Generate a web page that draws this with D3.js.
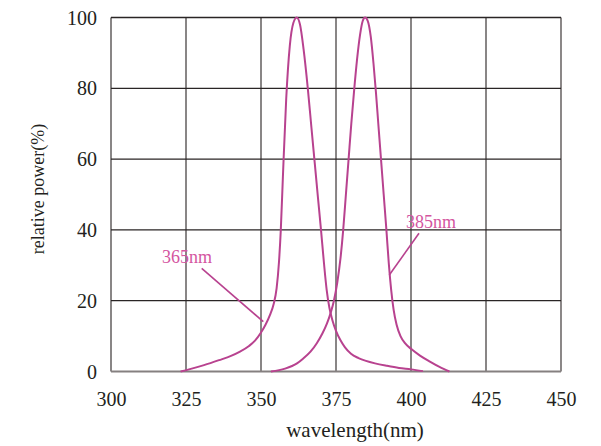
<!DOCTYPE html>
<html><head><meta charset="utf-8">
<script src="https://cdn.jsdelivr.net/npm/d3@7"></script>
<style>body{margin:0;background:#fff}svg{display:block}svg text{font-family:"Liberation Serif","Times New Roman",serif !important}</style>
</head><body><svg id="c" width="601" height="446"></svg>
<script>
const xTicks = [300, 325, 350, 375, 400, 425, 450];
const yTicks = [0, 20, 40, 60, 80, 100];
const wl365 = [323.2, 326, 331, 336, 340, 343, 346, 348, 350, 351.5, 353, 354.2, 355.2, 356, 356.6, 357.3, 358.4, 359.6, 360.8, 361.9, 363, 364.2, 365.6, 366.8, 367.9, 369, 370, 371, 371.9, 372.8, 373.8, 375, 376.5, 378, 380, 382.5, 385, 388, 392, 396, 400, 404];
const p365 = [0, 0.6, 1.8, 3.2, 4.4, 5.6, 7.2, 8.7, 11.0, 13.2, 16, 19, 23.5, 31, 40, 55, 77, 92, 98.5, 100, 98, 91, 80, 69, 59, 49, 40, 30.5, 23, 18, 14.5, 11.5, 8.8, 6.8, 5, 3.8, 3, 2.3, 1.6, 1, 0.6, 0.1];
const wl385 = [353.3, 358, 362, 364.1, 366.5, 368.6, 370.5, 372, 373.2, 374.3, 375.4, 376.5, 377.4, 378.3, 379.2, 380.1, 381, 382, 383, 383.9, 384.7, 385.6, 386.6, 387.5, 388.3, 389.1, 390, 390.9, 391.8, 392.6, 393.4, 394.2, 395.2, 396.5, 398, 400, 403, 406.3, 409.5, 412.8];
const p385 = [0, 0.8, 2.3, 3.7, 5.6, 8, 10.8, 13.6, 16.5, 20, 25, 32, 40, 50, 60, 70, 79, 88, 95, 99, 100, 99, 94.5, 87, 79, 70, 60, 50, 40, 30.5, 23, 17.5, 13.2, 10, 8, 6.4, 4.5, 2.8, 1.3, 0];
const labels = [
  {text: "365nm", x: 162, y: 263, lx1: 201.7, ly1: 268.3, lx2: 263.3, ly2: 321.7},
  {text: "385nm", x: 406, y: 228, lx1: 419, ly1: 233.3, lx2: 389.3, ly2: 275}
];

const svg = d3.select("#c");
const L = 111, R = 561, T = 17.5, B = 371.5;
const x = d3.scaleLinear().domain([300, 450]).range([L, R]);
const y = d3.scaleLinear().domain([0, 100]).range([B, T]);
const serif = '"Liberation Serif","Times New Roman",serif';

// grid
const g = svg.append("g");
g.selectAll(".vg").data(xTicks).join("line")
  .attr("x1", d => x(d)).attr("x2", d => x(d)).attr("y1", T).attr("y2", B)
  .attr("stroke", (d,i) => i === xTicks.length-1 ? "#6f6a6a" : "#4a4545").attr("stroke-width", (d,i)=> i===xTicks.length-1?1.6:1.3);
g.selectAll(".hg").data(yTicks).join("line")
  .attr("x1", L).attr("x2", R).attr("y1", d => y(d)).attr("y2", d => y(d))
  .attr("stroke", d => d === 0 ? "#858080" : "#2a2525").attr("stroke-width", d => d === 0 ? 2 : 1.3);

// axes (labels only)
const xa = svg.append("g").attr("transform", `translate(0,${B})`)
  .call(d3.axisBottom(x).tickValues(xTicks).tickSize(0).tickPadding(0));
xa.attr("font-family", serif);
xa.select(".domain").remove();
xa.selectAll("text").attr("y", 34.5).attr("dy", null).attr("font-size", 20)
  .style("font-family", serif).attr("fill", "#231f20");
const ya = svg.append("g").attr("transform", `translate(${L},0)`)
  .call(d3.axisLeft(y).tickValues(yTicks).tickSize(0).tickPadding(0));
ya.attr("font-family", serif);
ya.select(".domain").remove();
ya.selectAll("text").attr("x", -14).attr("dy", "0.33em").attr("font-size", 20)
  .style("font-family", serif).attr("fill", "#231f20");

// curves
const line = d3.line().x(d => x(d[0])).y(d => y(d[1])).curve(d3.curveMonotoneX);
const curves = [d3.zip(wl365, p365), d3.zip(wl385, p385)];
svg.selectAll(".curve").data(curves).join("path")
  .attr("d", line).attr("fill", "none").attr("stroke", "#b8428f").attr("stroke-width", 2);

// annotations
labels.forEach(l => {
  svg.append("line").attr("x1", l.lx1).attr("y1", l.ly1).attr("x2", l.lx2).attr("y2", l.ly2)
    .attr("stroke", "#b8428f").attr("stroke-width", 1.6);
  svg.append("text").attr("x", l.x).attr("y", l.y).attr("font-size", 18)
    .style("font-family", serif).attr("fill", "#d4559f").text(l.text);
});

// titles
svg.append("text").attr("x", 355).attr("y", 437).attr("text-anchor", "middle")
  .attr("font-size", 21).style("font-family", serif).attr("fill", "#231f20").text("wavelength(nm)");
svg.append("text").attr("transform", "translate(44,189) rotate(-90)").attr("text-anchor", "middle")
  .attr("font-size", 18).style("font-family", serif).attr("fill", "#231f20").text("relative power(%)");
</script></body></html>
